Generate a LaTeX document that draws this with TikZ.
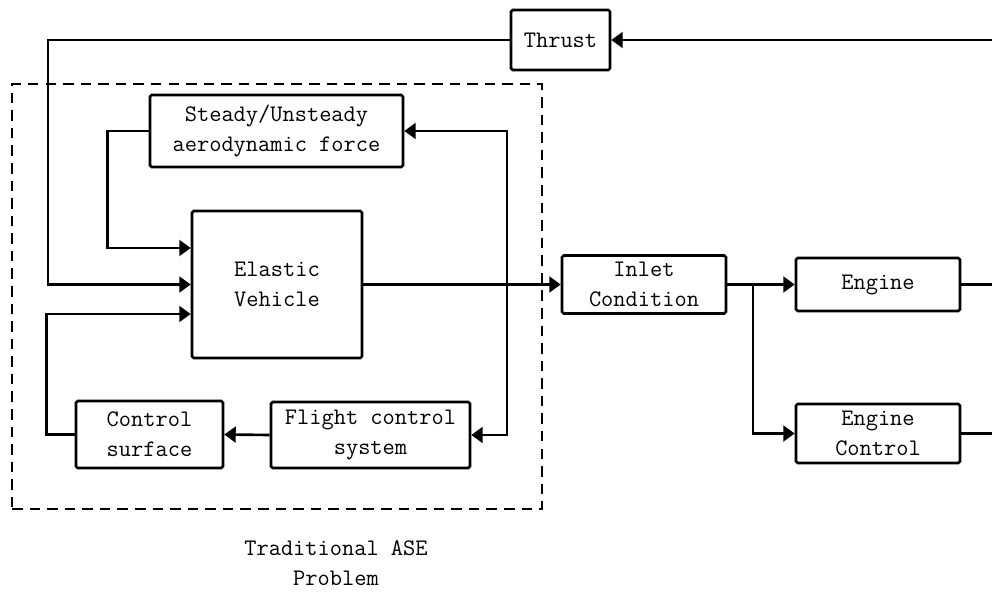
\documentclass[tikz,border=0pt]{standalone}
\usetikzlibrary{arrows.meta,calc}

\begin{document}
\begin{tikzpicture}[x=0.02cm, y=-0.02cm, line width=1.5pt, >={Triangle[length=6.5pt,width=9pt]},
        font=\fontsize{13.5}{17}\selectfont\ttfamily]
        \tikzstyle{block}=[draw, rounded corners=1pt, inner sep=0pt, align=center]
        \tikzstyle{frame}=[draw, dashed, dash pattern=on 6pt off 4pt, inner sep=0pt]
        \useasboundingbox (0,0) rectangle (992,592);
        \node[frame, minimum width=10.6cm, minimum height=8.5cm] (ase) at (277,296.5) {};
        \node[block, minimum width=1.98cm, minimum height=1.2cm] (thrust) at (560.5,40) {Thrust};
        \node[block, minimum width=5.06cm, minimum height=1.44cm] (aero) at (276.5,131) {Steady/Unsteady\\aerodynamic force};
        \node[block, minimum width=3.4cm, minimum height=2.94cm] (vehicle) at (277,284.5) {Elastic\\Vehicle};
        \node[block, minimum width=2.94cm, minimum height=1.34cm] (surface) at (149.5,434.5) {Control\\surface};
        \node[block, minimum width=3.98cm, minimum height=1.32cm] (fcs) at (370.5,435) {Flight control\\system};
        \node[block, minimum width=3.28cm, minimum height=1.16cm] (inlet) at (644,284.5) {Inlet\\Condition};
        \node[block, minimum width=3.28cm, minimum height=1.06cm] (engine) at (878,284.5) {Engine};
        \node[block, minimum width=3.28cm, minimum height=1.18cm] (engctrl) at (878,433.5) {Engine\\Control};
        \node[align=center] (caption) at (336,563) {Traditional ASE\\Problem};
        \coordinate (thrustin) at (992,40);
        \coordinate (thrustbend) at (48,40);
        \coordinate (tap) at (507,284.5);
        \coordinate (fork) at (753,284.5);
        \coordinate (engineout) at (992,284.5);
        \coordinate (engctrlout) at (992,433.5);
        \draw[->] (thrustin) -- (thrust.east);
        \draw[->] (thrust.west) -- (thrustbend) |- (vehicle.west);
        \draw[->] (aero.west) -- ++(-41,0) |- ($(vehicle.west)+(0,-36.5)$);
        \draw[->] (surface.west) -- ++(-28,0) |- ($(vehicle.west)+(0,29.5)$);
        \draw[->] (vehicle.east) -- (inlet.west);
        \draw[->] (tap) |- (aero.east);
        \draw[->] (tap) |- (fcs.east);
        \draw[->] (fcs.west) -- (surface.east);
        \draw[->] (inlet.east) -- (engine.west);
        \draw[->] (fork) |- (engctrl.west);
        \draw (engine.east) -- (engineout);
        \draw (engctrl.east) -- (engctrlout);
    \end{tikzpicture}
\end{document}
